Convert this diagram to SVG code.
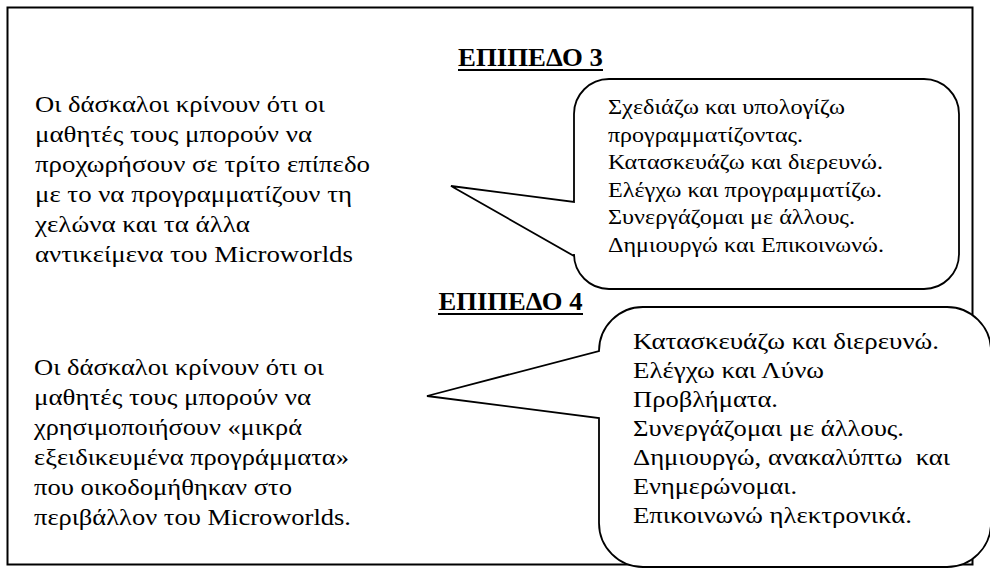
<svg xmlns="http://www.w3.org/2000/svg" width="990" height="570" viewBox="0 0 990 570">
<style>
.frame{fill:none;stroke:#000;stroke-width:2}
.bubble{fill:#fff;stroke:#000;stroke-width:1.8;stroke-linejoin:miter}
text{font-family:"Liberation Serif","DejaVu Serif","Times New Roman",serif;fill:#000}
.head{font-weight:bold;font-size:25px;text-anchor:middle}
.ul{stroke:#000;stroke-width:2}
.t25{font-size:24px}
.t22{font-size:21px}
.t24{font-size:23px}
</style>
<rect width="990" height="570" fill="#fff"/>
<g id="frame"><rect class="frame" x="7.5" y="7.5" width="965" height="557"/></g>

<g id="heading3">
<text class="head" x="530.5" y="66" textLength="145" lengthAdjust="spacingAndGlyphs">ΕΠΙΠΕΔΟ 3</text>
<line class="ul" x1="458" y1="70" x2="603" y2="70"/>
</g>

<g id="left-text-3">
<text class="t25" x="35" y="112" textLength="290" lengthAdjust="spacingAndGlyphs">Οι δάσκαλοι κρίνουν ότι οι</text>
<text class="t25" x="35" y="142" textLength="277" lengthAdjust="spacingAndGlyphs">μαθητές τους μπορούν να</text>
<text class="t25" x="35" y="172" textLength="335" lengthAdjust="spacingAndGlyphs">προχωρήσουν σε τρίτο επίπεδο</text>
<text class="t25" x="35" y="202" textLength="317" lengthAdjust="spacingAndGlyphs">με το να προγραμματίζουν τη</text>
<text class="t25" x="35" y="232" textLength="215" lengthAdjust="spacingAndGlyphs">χελώνα και τα άλλα</text>
<text class="t25" x="35" y="262" textLength="318" lengthAdjust="spacingAndGlyphs">αντικείμενα του Microworlds</text>
</g>

<g id="bubble-3">
<path class="bubble" d="M609,79 H924 A35,35 0 0 1 959,114 V254 A35,35 0 0 1 924,289 H609 A35,35 0 0 1 574,254 V256 L451,186 L574,202 V114 A35,35 0 0 1 609,79 Z"/>
<text class="t22" x="608" y="114" textLength="237" lengthAdjust="spacingAndGlyphs">Σχεδιάζω και υπολογίζω</text>
<text class="t22" x="608" y="141.5" textLength="195" lengthAdjust="spacingAndGlyphs">προγραμματίζοντας.</text>
<text class="t22" x="608" y="169" textLength="275" lengthAdjust="spacingAndGlyphs">Κατασκευάζω και διερευνώ.</text>
<text class="t22" x="608" y="196.5" textLength="274" lengthAdjust="spacingAndGlyphs">Ελέγχω και προγραμματίζω.</text>
<text class="t22" x="608" y="224" textLength="247" lengthAdjust="spacingAndGlyphs">Συνεργάζομαι με άλλους.</text>
<text class="t22" x="608" y="251.5" textLength="276" lengthAdjust="spacingAndGlyphs">Δημιουργώ και Επικοινωνώ.</text>
</g>

<g id="heading4">
<text class="head" x="510.5" y="310" textLength="144" lengthAdjust="spacingAndGlyphs">ΕΠΙΠΕΔΟ 4</text>
<line class="ul" x1="438" y1="314" x2="583" y2="314"/>
</g>

<g id="left-text-4">
<text class="t25" x="34" y="375" textLength="290" lengthAdjust="spacingAndGlyphs">Οι δάσκαλοι κρίνουν ότι οι</text>
<text class="t25" x="34" y="405" textLength="277" lengthAdjust="spacingAndGlyphs">μαθητές τους μπορούν να</text>
<text class="t25" x="34" y="435" textLength="268" lengthAdjust="spacingAndGlyphs">χρησιμοποιήσουν «μικρά</text>
<text class="t25" x="34" y="465" textLength="315" lengthAdjust="spacingAndGlyphs">εξειδικευμένα προγράμματα»</text>
<text class="t25" x="34" y="495" textLength="258" lengthAdjust="spacingAndGlyphs">που οικοδομήθηκαν στο</text>
<text class="t25" x="34" y="525" textLength="317" lengthAdjust="spacingAndGlyphs">περιβάλλον του Microworlds.</text>
</g>

<g id="bubble-4">
<path class="bubble" d="M643,307 H947 A44,44 0 0 1 991,351 V523 A44,44 0 0 1 947,567 H643 A44,44 0 0 1 599,523 V418 L427,396 L599,351 A44,44 0 0 1 643,307 Z"/>
<text class="t24" x="633" y="349" textLength="306" lengthAdjust="spacingAndGlyphs">Κατασκευάζω και διερευνώ.</text>
<text class="t24" x="633" y="378" textLength="191" lengthAdjust="spacingAndGlyphs">Ελέγχω και Λύνω</text>
<text class="t24" x="633" y="407" textLength="145" lengthAdjust="spacingAndGlyphs">Προβλήματα.</text>
<text class="t24" x="633" y="436" textLength="271" lengthAdjust="spacingAndGlyphs">Συνεργάζομαι με άλλους.</text>
<text class="t24" x="633" y="465" textLength="317" lengthAdjust="spacingAndGlyphs" xml:space="preserve">Δημιουργώ, ανακαλύπτω  και</text>
<text class="t24" x="633" y="494" textLength="164" lengthAdjust="spacingAndGlyphs">Ενημερώνομαι.</text>
<text class="t24" x="633" y="523" textLength="279" lengthAdjust="spacingAndGlyphs">Επικοινωνώ ηλεκτρονικά.</text>
</g>
</svg>
